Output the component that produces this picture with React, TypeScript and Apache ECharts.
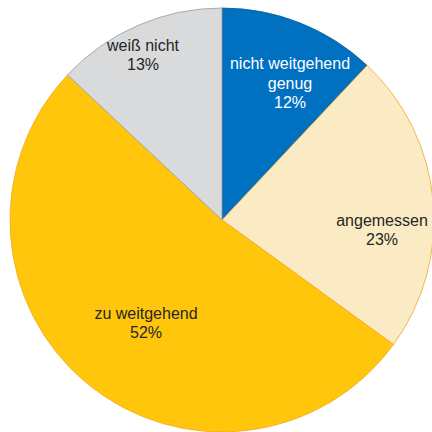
import React, { useEffect, useRef } from "react";
import * as echarts from "echarts";

const categories = ["nicht weitgehend\ngenug", "angemessen", "zu weitgehend", "weiß nicht"];
const values = [12, 23, 52, 13];
const colors = ["#0070C0", "#FAEBC4", "#FFC60B", "#D9DADB"];
const borderColors = ["#005A9C", "#F5A623", "#F5A623", "#9A9A9A"];
const labelColors = ["#ffffff", "#262626", "#262626", "#262626"];
const labelPos: [number, number][] = [
  [290, 83],
  [382, 230],
  [146, 323],
  [143, 55],
];

export default function App() {
  const ref = useRef<HTMLDivElement>(null);
  useEffect(() => {
    if (!ref.current) return;
    const chart = echarts.init(ref.current, undefined, { renderer: "svg" });
    chart.setOption({
      animation: false,
      backgroundColor: "#ffffff",
      series: [
        {
          type: "pie",
          center: [222, 220],
          radius: [0, 212],
          startAngle: 90,
          clockwise: true,
          silent: true,
          emphasis: { disabled: true },
          label: {
            show: true,
            position: "inside",
            fontFamily: "'Liberation Sans', Arial, sans-serif",
            fontSize: 16,
            lineHeight: 19.5,
            align: "center",
            formatter: (p: any) => `${p.name}\n${p.value}%`,
          },
          labelLine: { show: false },
          labelLayout: (p: any) => ({
            x: labelPos[p.dataIndex][0],
            y: labelPos[p.dataIndex][1],
            align: "center",
            verticalAlign: "middle",
          }),
          data: categories.map((c, i) => ({
            name: c,
            value: values[i],
            itemStyle: { color: colors[i], borderColor: borderColors[i], borderWidth: 0.8 },
            label: { color: labelColors[i] },
          })),
        },
      ],
    });
    return () => chart.dispose();
  }, []);
  return (
    <div
      ref={ref}
      style={{ position: "absolute", left: 0, top: 0, width: 432, height: 432 }}
    />
  );
}
